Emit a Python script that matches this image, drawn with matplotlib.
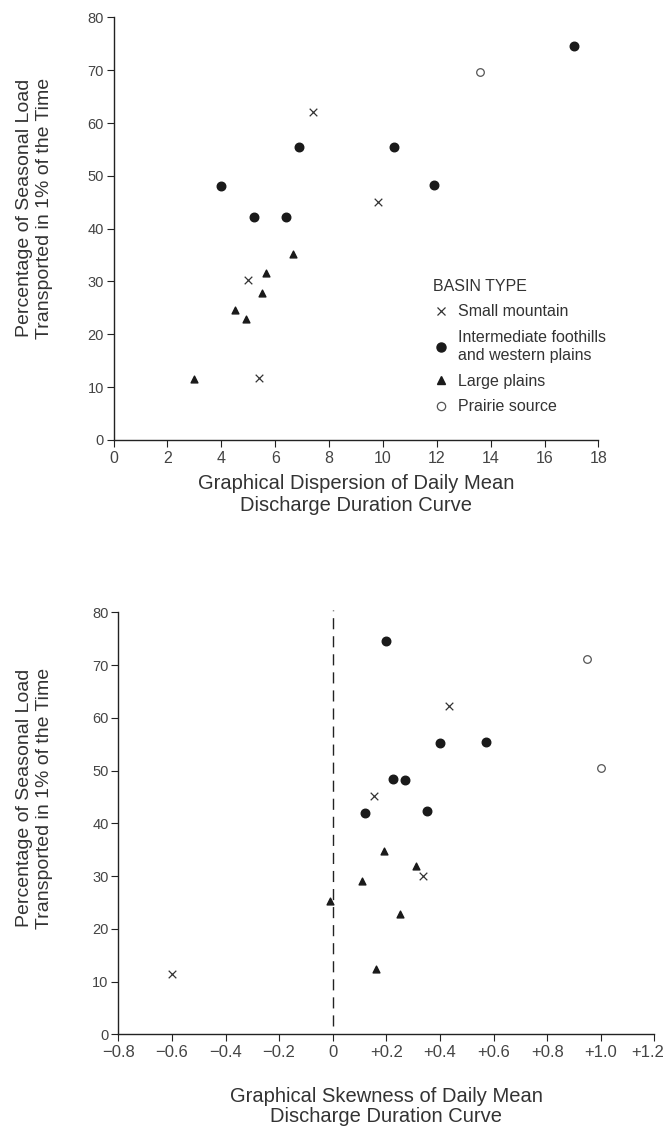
import matplotlib
matplotlib.use("Agg")
import matplotlib.pyplot as plt
import matplotlib.transforms as mtransforms
from matplotlib.lines import Line2D

plt.rcParams['font.family'] = ['Liberation Sans', 'DejaVu Sans']

# ---- Top chart: dispersion ----
disp_mountain_x = [7.4, 9.8, 5.0, 5.4]
disp_mountain_y = [62.0, 45.1, 30.2, 11.8]
disp_foot_x = [17.1, 6.9, 10.4, 4.0, 11.9, 5.2, 6.4]
disp_foot_y = [74.6, 55.4, 55.4, 48.0, 48.2, 42.3, 42.3]
disp_plains_x = [6.65, 5.65, 5.5, 4.5, 4.9, 3.0]
disp_plains_y = [35.2, 31.7, 27.8, 24.6, 22.9, 11.6]
disp_prairie_x = [13.6]
disp_prairie_y = [69.6]

# ---- Bottom chart: skewness ----
skew_mountain_x = [0.435, 0.155, 0.335, -0.6]
skew_mountain_y = [62.3, 45.1, 30.0, 11.4]
skew_foot_x = [0.20, 0.40, 0.57, 0.225, 0.27, 0.12, 0.35]
skew_foot_y = [74.6, 55.2, 55.5, 48.4, 48.2, 42.0, 42.4]
skew_plains_x = [0.19, 0.31, 0.11, -0.01, 0.25, 0.16]
skew_plains_y = [34.8, 32.0, 29.0, 25.2, 22.8, 12.4]
skew_prairie_x = [0.95, 1.0]
skew_prairie_y = [71.1, 50.5]

y_ticks = [0, 10, 20, 30, 40, 50, 60, 70, 80]
top_xticks = [0, 2, 4, 6, 8, 10, 12, 14, 16, 18]
bot_xticks = [-0.8, -0.6, -0.4, -0.2, 0.0, 0.2, 0.4, 0.6, 0.8, 1.0, 1.2]
bot_xlabels = ['\u22120.8', '\u22120.6', '\u22120.4', '\u22120.2', '0',
               '+0.2', '+0.4', '+0.6', '+0.8', '+1.0', '+1.2']

legend_labels = ['Small mountain', 'Intermediate foothills\nand western plains',
                 'Large plains', 'Prairie source']

ylabel = 'Percentage of Seasonal Load\nTransported in 1% of the Time'
top_xlabel = 'Graphical Dispersion of Daily Mean\nDischarge Duration Curve'
bot_xlabel = 'Graphical Skewness of Daily Mean\nDischarge Duration Curve'

INK = '#1a1a1a'
TXT = '#333333'

fig = plt.figure(figsize=(6.66, 11.27), dpi=100)
ax1 = fig.add_axes([0.1706, 0.6096, 0.728, 0.375])
ax2 = fig.add_axes([0.1776, 0.0822, 0.805, 0.3745])


def draw(ax, mx, my, fx, fy, px, py, rx, ry):
    ax.scatter(mx, my, marker='x', s=30, c='#333333', linewidths=0.9, zorder=3)
    ax.scatter(fx, fy, marker='o', s=38, c=INK, zorder=3)
    ax.scatter(px, py, marker='^', s=24, c=INK, zorder=3)
    ax.scatter(rx, ry, marker='o', s=30, facecolors='white', edgecolors='#555555',
               linewidths=0.9, zorder=3)


def style(ax, xtick_size):
    for s in ['top', 'right']:
        ax.spines[s].set_visible(False)
    for s in ['left', 'bottom']:
        ax.spines[s].set_color('#222222')
        ax.spines[s].set_linewidth(1.0)
    ax.set_ylim(0, 80)
    ax.set_yticks(y_ticks)
    ax.tick_params(axis='both', direction='out', length=5, width=0.8,
                   colors='#222222', labelcolor='#444444')
    ax.tick_params(axis='y', labelsize=10.5, pad=2)
    ax.tick_params(axis='x', labelsize=xtick_size, pad=3)
    ax.set_ylabel(ylabel, fontsize=14, color=TXT, linespacing=1.2)


draw(ax1, disp_mountain_x, disp_mountain_y, disp_foot_x, disp_foot_y,
     disp_plains_x, disp_plains_y, disp_prairie_x, disp_prairie_y)
style(ax1, 11.5)
ax1.set_xlim(0, 18)
ax1.set_xticks(top_xticks)
ax1.set_xlabel(top_xlabel, fontsize=14.5, color=TXT, labelpad=6, linespacing=1.15)
ax1.yaxis.set_label_coords(-0.125, 0.549)

handles = [
    Line2D([], [], ls='none', marker='x', markersize=6, color='#333333', mew=0.9),
    Line2D([], [], ls='none', marker='o', markersize=6.5, color=INK),
    Line2D([], [], ls='none', marker='^', markersize=5.5, color=INK),
    Line2D([], [], ls='none', marker='o', markersize=6, mfc='white', mec='#555555', mew=0.9),
]
leg = ax1.legend(handles, legend_labels, title='BASIN TYPE', loc='upper left',
                 bbox_to_anchor=(0.63, 0.416), frameon=False, fontsize=11.5,
                 title_fontsize=11.5, handlelength=1.0, handletextpad=0.55,
                 labelspacing=0.68, alignment='left', labelcolor=TXT)
leg.get_title().set_color(TXT)

draw(ax2, skew_mountain_x, skew_mountain_y, skew_foot_x, skew_foot_y,
     skew_plains_x, skew_plains_y, skew_prairie_x, skew_prairie_y)
style(ax2, 12)
ax2.set_xlim(-0.8, 1.2)
ax2.set_xticks(bot_xticks)
ax2.set_xticklabels(bot_xlabels)
last = ax2.get_xticklabels()[-1]
last.set_transform(last.get_transform() +
                   mtransforms.ScaledTranslation(-7 / 100, 0, fig.dpi_scale_trans))
ax2.set_xlabel(bot_xlabel, fontsize=14.5, color=TXT, labelpad=19, linespacing=1.1)
ax2.yaxis.set_label_coords(-0.122, 0.56)
ax2.plot([0, 0], [1.5, 80.5], ls=(0, (8, 5)), color='#222222', lw=1.0,
         clip_on=False, zorder=2)

fig.savefig('out.png', dpi=100)
